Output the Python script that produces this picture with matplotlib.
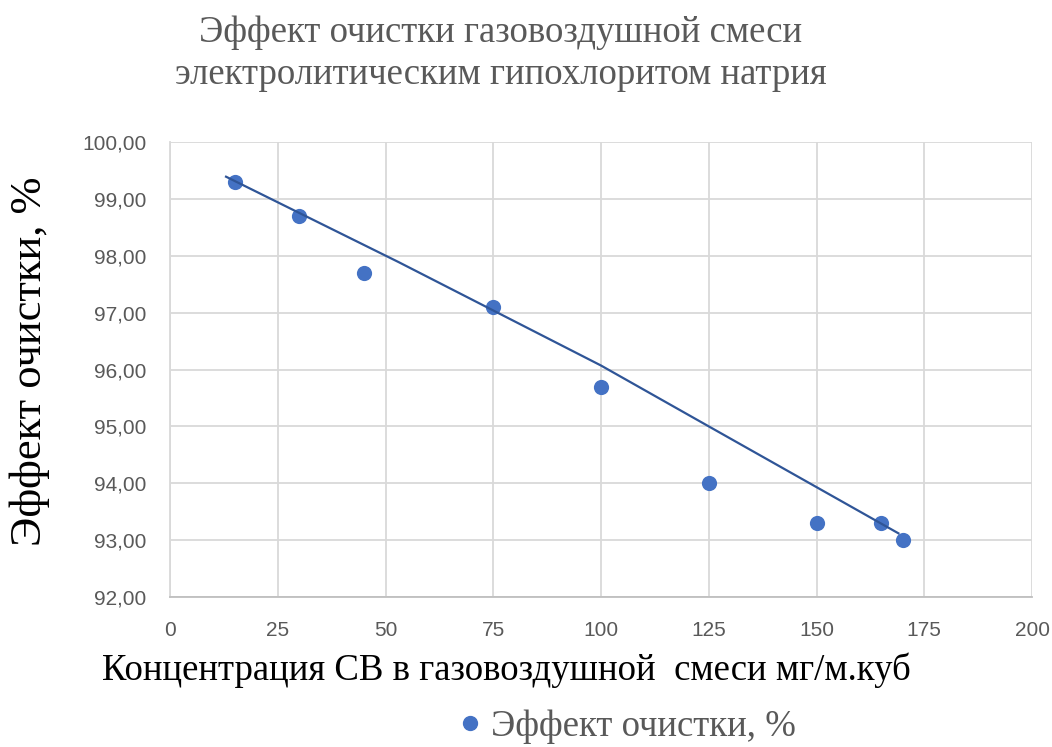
import matplotlib
matplotlib.use("Agg")
import matplotlib.pyplot as plt
from matplotlib.ticker import FuncFormatter, MultipleLocator
from matplotlib.lines import Line2D

# data
conc = [15, 30, 45, 75, 100, 125, 150, 165, 170]
effect = [99.3, 98.7, 97.7, 97.1, 95.7, 94.0, 93.3, 93.3, 93.0]

# trendline as drawn in the reference
trend_x = [13, 53, 100, 125, 169]
trend_y = [99.39, 97.89, 96.07, 95.0, 93.12]

title = "Эффект очистки газовоздушной смеси\nэлектролитическим гипохлоритом натрия"
xlabel = "Концентрация СВ в газовоздушной  смеси мг/м.куб"
ylabel = "Эффект очистки, %"
legend_label = "Эффект очистки, %"

serif = "Liberation Serif"
sans = "Liberation Sans"
gray = "#595959"
blue = "#4472C4"

fig = plt.figure(figsize=(10.52, 7.47), dpi=100)
ax = fig.add_axes([0.1616, 0.2008, 0.8194, 0.6091])

ax.scatter(conc, effect, s=120, color=blue, zorder=3, linewidths=0)
ax.plot(trend_x, trend_y, color="#2F5597", lw=1.6, zorder=4)

ax.set_xlim(0, 200)
ax.set_ylim(92, 100)
ax.xaxis.set_major_locator(MultipleLocator(25))
ax.yaxis.set_major_locator(MultipleLocator(1))
ax.yaxis.set_major_formatter(FuncFormatter(lambda v, p: f"{v:.2f}".replace(".", ",")))
ax.grid(True, color="#D9D9D9", lw=1.3)
ax.set_axisbelow(True)
for s in ["top", "right"]:
    ax.spines[s].set_visible(False)
ax.spines["left"].set_color("#D9D9D9")
ax.spines["bottom"].set_color("#BFBFBF")
ax.spines["left"].set_linewidth(1.3)
ax.spines["bottom"].set_linewidth(1.3)
ax.tick_params(length=0, pad=17, labelsize=15, labelcolor=gray)
for lab in ax.get_xticklabels() + ax.get_yticklabels():
    lab.set_fontfamily(sans)

fig.text(0.476, 0.928, title, ha="center", va="center", fontsize=26.5,
         family=serif, color=gray, linespacing=1.3)
fig.text(0.481, 0.103, xlabel, ha="center", va="center", fontsize=26.5,
         family=serif, color="black")
fig.text(0.028, 0.517, ylabel, ha="center", va="center", fontsize=32,
         family=serif, color="black", rotation=90)

handle = Line2D([], [], marker="o", ls="", color=blue, markersize=10)
fig.legend([handle], [legend_label], loc="center", bbox_to_anchor=(0.593, 0.027),
           frameon=False, handletextpad=0.05, handlelength=1.0,
           prop={"family": serif, "size": 26.5}, labelcolor=gray)

fig.savefig("out.png", dpi=100)
